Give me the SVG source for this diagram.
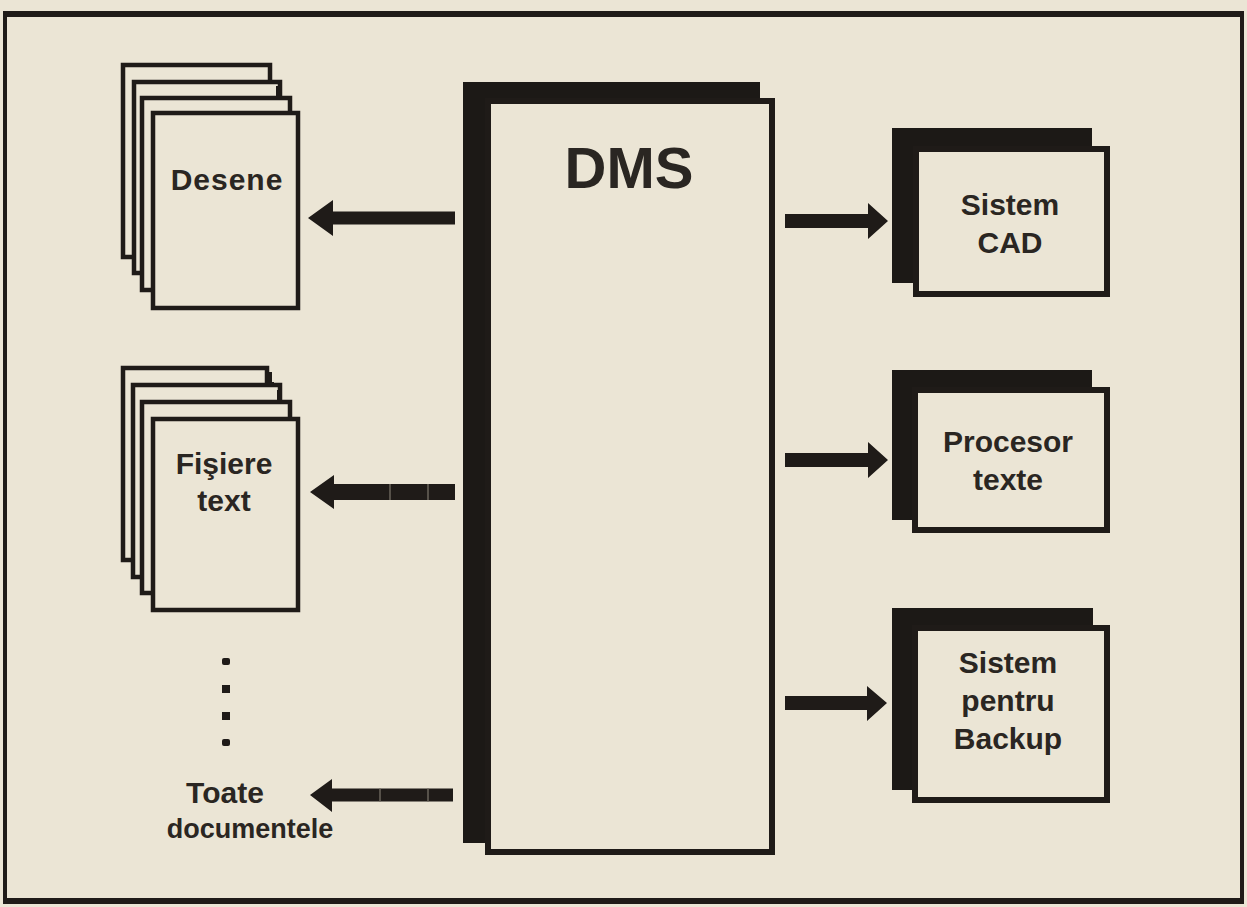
<svg xmlns="http://www.w3.org/2000/svg" width="1247" height="907" viewBox="0 0 1247 907">
<style>
.bg{fill:#ebe5d5}
.page{fill:#ebe5d5;stroke:#1f1b18;stroke-width:4.5}
.shadow{fill:#1c1916}
.box{fill:#ebe5d5;stroke:#1f1b18;stroke-width:6}
.arrow{fill:#1f1b18}
.seg{stroke:#6a645a;stroke-width:1.5}
.lbl{font-family:"Liberation Sans",Arial,sans-serif;font-weight:bold;font-size:30px;fill:#2a2622;text-anchor:middle}
.dot{fill:#1f1b18}
</style>
<rect class="bg" x="0" y="0" width="1247" height="907"/>
<g id="frame">
<line x1="3" y1="14" x2="1244" y2="14" stroke="#1f1b18" stroke-width="6"/>
<line x1="5" y1="12" x2="5" y2="903" stroke="#1f1b18" stroke-width="4"/>
<line x1="1242" y1="12" x2="1242" y2="903" stroke="#1f1b18" stroke-width="4"/>
<line x1="3" y1="901" x2="1244" y2="901" stroke="#1f1b18" stroke-width="6"/>
</g>
<g id="dms">
<rect class="shadow" x="463" y="82" width="297" height="761"/>
<rect class="box" x="488" y="101" width="284" height="751" stroke-width="7"/>
<text class="lbl" x="629" y="188" style="font-size:58px">DMS</text>
</g>
<g id="desene">
<rect class="page" x="123" y="65" width="147" height="192"/>
<rect class="page" x="134" y="82" width="146" height="191"/>
<rect class="page" x="142" y="98" width="148" height="192"/>
<rect class="page" x="153" y="113" width="145" height="195"/>
<rect class="dot" x="276" y="86" width="4" height="12"/>
<rect class="dot" x="274" y="96" width="8" height="2.5"/>
<text class="lbl" x="227" y="190" style="letter-spacing:1px">Desene</text>
</g>
<g id="fisiere">
<rect class="page" x="123" y="368" width="144" height="192"/>
<rect class="page" x="133" y="385" width="147" height="192"/>
<rect class="page" x="142" y="402" width="148" height="191"/>
<rect class="page" x="153" y="419" width="145" height="191"/>
<rect class="dot" x="268" y="372" width="4" height="12"/>
<rect class="dot" x="266" y="382" width="8" height="2.5"/>
<rect class="dot" x="277" y="390" width="4" height="12"/>
<text class="lbl" x="224" y="474">Fişiere</text>
<text class="lbl" x="224" y="511">text</text>
</g>
<g id="dots">
<rect class="dot" x="222" y="658" width="8" height="7" rx="2"/>
<rect class="dot" x="222" y="685" width="8" height="8"/>
<rect class="dot" x="222" y="712" width="8" height="8"/>
<rect class="dot" x="222" y="739" width="8" height="7" rx="2"/>
</g>
<g id="toate">
<text class="lbl" x="225" y="803">Toate</text>
<text class="lbl" x="250" y="838" style="font-size:27px">documentele</text>
</g>
<g id="cad">
<rect class="shadow" x="892" y="128" width="200" height="155"/>
<rect class="box" x="916" y="149" width="191" height="145"/>
<text class="lbl" x="1010" y="215">Sistem</text>
<text class="lbl" x="1010" y="253">CAD</text>
</g>
<g id="procesor">
<rect class="shadow" x="892" y="370" width="200" height="150"/>
<rect class="box" x="915" y="390" width="192" height="140"/>
<text class="lbl" x="1008" y="452">Procesor</text>
<text class="lbl" x="1008" y="490">texte</text>
</g>
<g id="backup">
<rect class="shadow" x="892" y="608" width="201" height="182"/>
<rect class="box" x="915" y="628" width="192" height="172"/>
<text class="lbl" x="1008" y="673">Sistem</text>
<text class="lbl" x="1008" y="711">pentru</text>
<text class="lbl" x="1008" y="749">Backup</text>
</g>
<g id="connectors">
<path class="arrow" d="M308,218 L333,200 L333,211.5 L455,211.5 L455,224.5 L333,224.5 L333,236 Z"/>
<path class="arrow" d="M310,492 L334,475 L334,484 L455,484 L455,500 L334,500 L334,509 Z"/>
<line class="seg" x1="390" y1="484" x2="390" y2="500"/>
<line class="seg" x1="428" y1="484" x2="428" y2="500"/>
<path class="arrow" d="M310,795 L332,779 L332,788.5 L453,788.5 L453,801.5 L332,801.5 L332,812 Z"/>
<line class="seg" x1="380" y1="788.5" x2="380" y2="801.5"/>
<line class="seg" x1="428" y1="788.5" x2="428" y2="801.5"/>
<path class="arrow" d="M888,221 L868,203 L868,214 L785,214 L785,228 L868,228 L868,239 Z"/>
<path class="arrow" d="M888,460 L868,442 L868,453 L785,453 L785,467 L868,467 L868,478 Z"/>
<path class="arrow" d="M887,703 L867,686 L867,696 L785,696 L785,710 L867,710 L867,721 Z"/>
</g>
</svg>
